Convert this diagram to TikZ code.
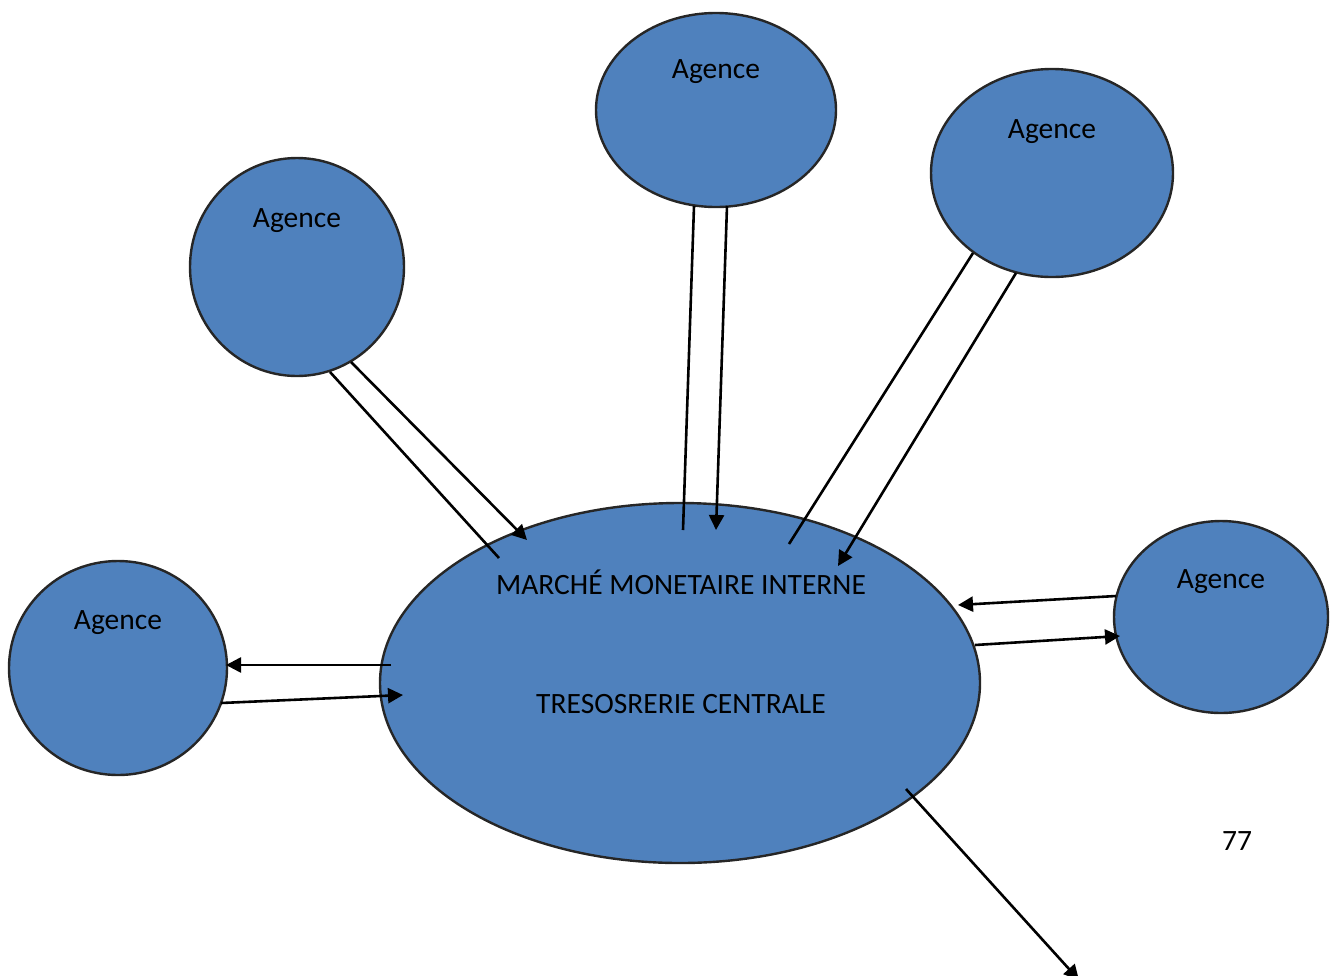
\documentclass[tikz,border=0pt]{standalone}
\usepackage{fontspec}
\setmainfont{Carlito}
\usetikzlibrary{shapes.geometric,arrows.meta}

\tikzset{
  bubble/.style={ellipse, draw=black!85, line width=2.4pt, fill=agblue, inner sep=0pt},
  label text/.style={font=\fontsize{29.5}{35}\selectfont, text=black, inner sep=0pt},
  link/.style={line width=2.6pt, draw=black},
  flow/.style={link, -{Triangle[length=15pt,width=15pt]}},
}
\definecolor{agblue}{HTML}{4F81BD}

\begin{document}
\begin{tikzpicture}[x=1pt,y=-1pt]
\useasboundingbox (0,0) rectangle (1335,975);

% central market bubble and the five agencies
\node[bubble, minimum width=600pt, minimum height=360pt] (tc) at (680,683) {};
\node[bubble, minimum width=214pt, minimum height=218pt] (a1) at (297,267) {};
\node[bubble, minimum width=240pt, minimum height=194pt] (a2) at (716,110) {};
\node[bubble, minimum width=242pt, minimum height=208pt] (a3) at (1052,173) {};
\node[bubble, minimum width=218pt, minimum height=214pt] (a4) at (118,668) {};
\node[bubble, minimum width=214pt, minimum height=192pt] (a5) at (1221,617) {};

% texts
\node[label text] (t1) at (297,221) {Agence};
\node[label text] (t2) at (716,72) {Agence};
\node[label text] (t3) at (1052,132) {Agence};
\node[label text] (t4) at (118,623) {Agence};
\node[label text] (t5) at (1221,582) {Agence};
\node[label text] (m1) at (681,582) {MARCHÉ MONETAIRE INTERNE};
\node[label text] (m2) at (681,704) {TRESOSRERIE CENTRALE};
\node[label text] (pg) at (1237,841) {77};

% connector end points
\coordinate (a1o) at (330,372);  \coordinate (a1i) at (499,558);
\coordinate (a1s) at (351,362);  \coordinate (a1e) at (527,540);
\coordinate (a2o) at (694,206);  \coordinate (a2i) at (683,530);
\coordinate (a2s) at (727,206);  \coordinate (a2e) at (716,530);
\coordinate (a3o) at (973,253);  \coordinate (a3i) at (789,544);
\coordinate (a3s) at (1016,273); \coordinate (a3e) at (838,566);
\coordinate (a5s) at (1116,596); \coordinate (a5e) at (958,605);
\coordinate (tcs) at (975,645);  \coordinate (tce) at (1120,636);
\coordinate (tls) at (391,665);  \coordinate (tle) at (226,665);
\coordinate (a4s) at (221,703);  \coordinate (a4e) at (403,695);
\coordinate (tbs) at (906,789);  \coordinate (out) at (1079,980);

% agencies to the central bubble
\draw[link] (a1o) -- (a1i);
\draw[flow] (a1s) -- (a1e);
\draw[link] (a2o) -- (a2i);
\draw[flow] (a2s) -- (a2e);
\draw[link] (a3o) -- (a3i);
\draw[flow] (a3s) -- (a3e);

% two-way exchanges on the sides
\draw[flow] (a5s) -- (a5e);
\draw[flow] (tcs) -- (tce);
\draw[flow] (tls) -- (tle);
\draw[flow] (a4s) -- (a4e);

% outgoing flow
\draw[flow] (tbs) -- (out);
\end{tikzpicture}
\end{document}
